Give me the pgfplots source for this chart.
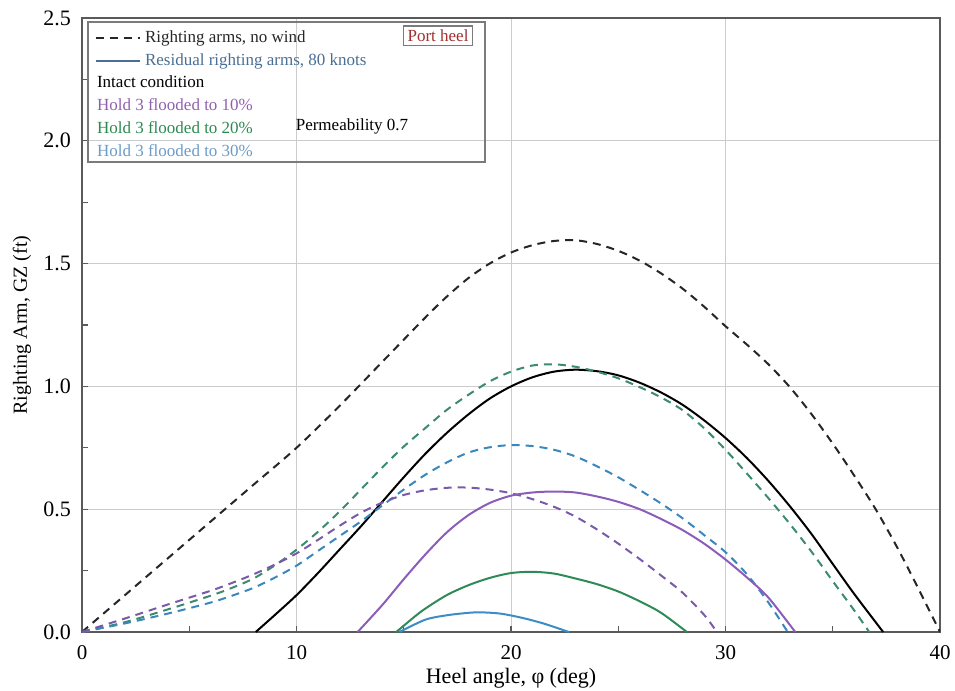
\documentclass[border=0pt]{standalone}
\usepackage{fontspec}
\setmainfont{Liberation Serif}
\usepackage{pgfplots}
\pgfplotsset{compat=1.18}
\definecolor{axgray}{HTML}{5A5A5A}
\definecolor{gridgray}{HTML}{CCCCCC}
\definecolor{purp}{HTML}{8B5DB8}
\definecolor{purpd}{HTML}{7A5AA8}
\definecolor{grn}{HTML}{2E8B57}
\definecolor{grnd}{HTML}{3B8C6E}
\definecolor{blu}{HTML}{3C8DC5}
\definecolor{blud}{HTML}{3A87BD}
\definecolor{txtblue}{HTML}{4A6F94}
\definecolor{txtpurp}{HTML}{9060B0}
\definecolor{txtgrn}{HTML}{2C8A50}
\definecolor{txtblu}{HTML}{6B9BC8}
\definecolor{portred}{HTML}{A03030}
\begin{document}
\begin{tikzpicture}
\begin{axis}[
  scale only axis, width=429pt, height=307pt,
  xmin=0, xmax=40, ymin=0, ymax=2.5,
  xtick={0,10,20,30,40}, ytick={0,0.5,1,1.5,2,2.5},
  minor xtick={5,15,25,35}, minor ytick={0.25,0.75,1.25,1.75,2.25},
  yticklabels={0.0,0.5,1.0,1.5,2.0,2.5},
  xtick pos=bottom, ytick pos=left,
  /pgf/number format/assume math mode=true,
  tick align=inside, major tick length=3pt, minor tick length=3pt,
  tick style={axgray, line width=0.6pt},
  xmajorgrids, ymajorgrids,
  major grid style={gridgray, line width=0.5pt},
  axis line style={axgray, line width=1pt},
  xticklabel style={yshift=-3pt, font=\fontsize{10.5}{12}\selectfont},
  yticklabel style={xshift=-2pt, font=\fontsize{11}{12}\selectfont},
  every axis x label/.style={at={(axis description cs:0.5,-0.075)}, anchor=center},
  every axis y label/.style={at={(axis description cs:-0.07,0.5)}, rotate=90, anchor=center},
  xlabel style={font=\fontsize{11}{13}\selectfont},
  ylabel style={font=\fontsize{10}{12}\selectfont},
  xlabel={Heel angle, φ (deg)},
  ylabel={Righting Arm, GZ (ft)},
  legend cell align=left,
  legend style={draw=none, fill=none, at={(rel axis cs:0.012,0.99)}, anchor=north west,
    font=\fontsize{8.5}{11.4}\selectfont, row sep=0pt, inner sep=1pt},
  legend image code/.code={\draw[#1] (0cm,0cm) -- (0.78cm,0cm);},
  every axis plot/.append style={line width=1pt},
]
\addlegendimage{black!85, dash pattern=on 4pt off 3pt}
\addlegendentry{\textcolor{black!85}{Righting arms, no wind}}
\addlegendimage{txtblue, line width=0.8pt}
\addlegendentry{\textcolor{txtblue}{Residual righting arms, 80 knots}}
\addlegendimage{empty legend}
\addlegendentry{\hspace{-24pt}Intact condition}
\addlegendimage{empty legend}
\addlegendentry{\hspace{-24pt}\textcolor{txtpurp}{Hold 3 flooded to 10\%}}
\addlegendimage{empty legend}
\addlegendentry{\hspace{-24pt}\textcolor{txtgrn}{Hold 3 flooded to 20\%}}
\addlegendimage{empty legend}
\addlegendentry{\hspace{-24pt}\textcolor{txtblu}{Hold 3 flooded to 30\%}}

% intact, no wind
\addplot[black!85, dash pattern=on 4pt off 3pt, smooth, forget plot] coordinates {
(0,0) (2,0.15) (4,0.3) (6,0.45) (8,0.6) (10,0.75) (12,0.92) (14,1.1) (16,1.28) (17,1.365)
(18,1.44) (19,1.5) (20,1.545) (21,1.575) (22,1.592) (23,1.595) (24,1.58) (25,1.552)
(26,1.512) (27,1.46) (28,1.398) (29,1.325) (30,1.245) (31,1.17) (32,1.09) (33,0.997)
(34,0.888) (35,0.767) (36,0.637) (37,0.5) (38,0.345) (39,0.175) (40,0)};
% intact residual
\addplot[black, smooth, forget plot] coordinates {
(8.1,0) (9,0.07) (10,0.15) (11,0.24) (12,0.335) (13,0.43) (14,0.53) (15,0.63)
(16,0.725) (17,0.81) (18,0.885) (19,0.95) (20,1.0) (21,1.037) (22,1.06) (23,1.068)
(24,1.062) (25,1.045) (26,1.015) (27,0.975) (28,0.925) (29,0.862) (30,0.79) (31,0.708)
(32,0.615) (33,0.512) (34,0.4) (35,0.277) (36,0.155) (37.35,0)};
% 20% no wind
\addplot[grnd, dash pattern=on 4pt off 3pt, smooth, forget plot] coordinates {
(0,0) (2,0.04) (4,0.092) (6,0.148) (7,0.18) (8,0.218) (9,0.272) (10,0.335) (11,0.408) (12,0.49)
(13,0.58) (14,0.67) (15,0.755) (16,0.83) (17,0.904) (18,0.965) (19,1.02) (20,1.06)
(21,1.085) (22,1.09) (23,1.08) (24,1.06) (25,1.033) (26,0.997) (27,0.955) (28,0.903)
(29,0.83) (30,0.742) (31,0.645) (32,0.545) (33,0.44) (34,0.328) (35,0.207) (36,0.088) (36.7,0)};
% 30% no wind
\addplot[blud, dash pattern=on 4pt off 3pt, smooth, forget plot] coordinates {
(0,0) (2,0.035) (4,0.075) (6,0.12) (7,0.148) (8,0.18) (9,0.222) (10,0.27) (11,0.33)
(12,0.39) (13,0.45) (14,0.515) (15,0.58) (16,0.64) (17,0.69) (18,0.73) (19,0.752) (20,0.761)
(21,0.757) (22,0.742) (23,0.715) (24,0.675) (25,0.63) (26,0.578) (27,0.523) (28,0.463)
(29,0.395) (30,0.325) (31,0.235) (32,0.12) (32.9,0)};
% 10% no wind
\addplot[purpd, dash pattern=on 4pt off 3pt, smooth, forget plot] coordinates {
(0,0) (2,0.055) (4,0.112) (6,0.168) (7,0.2) (8,0.235) (9,0.275) (10,0.32) (11,0.375) (12,0.432)
(13,0.485) (14,0.527) (15,0.558) (16,0.577) (17,0.587) (18,0.588) (19,0.58) (20,0.565)
(21,0.541) (22,0.51) (23,0.47) (24,0.418) (25,0.36) (26,0.297) (27,0.23) (28,0.16)
(29,0.07) (29.6,0)};
% 10% residual
\addplot[purp, smooth, forget plot] coordinates {
(12.85,0) (14,0.11) (15,0.215) (16,0.315) (17,0.405) (18,0.475) (19,0.525)
(20,0.555) (21,0.568) (22,0.572) (23,0.568) (24,0.552) (25,0.53) (26,0.5) (27,0.46)
(28,0.415) (29,0.36) (30,0.295) (31,0.222) (32,0.14) (33.25,0)};
% 20% residual
\addplot[grn, smooth, forget plot] coordinates {
(14.65,0) (15.5,0.062) (16,0.095) (17,0.15) (18,0.19) (19,0.22) (20,0.24)
(21,0.245) (22,0.238) (23,0.218) (24,0.195) (25,0.165) (26,0.125) (27,0.078) (28.2,0)};
% 30% residual
\addplot[blu, smooth, forget plot] coordinates {
(14.8,0) (16,0.05) (17,0.068) (18,0.078) (18.6,0.08) (19.5,0.075)
(20.5,0.058) (21.5,0.035) (22.7,0)};

\draw[axgray!80, line width=1pt] (rel axis cs:0.007,0.765) rectangle (rel axis cs:0.47,0.9935);
\node[draw=axgray!80, line width=0.7pt, inner sep=2pt, text=portred, font=\fontsize{8.5}{10}\selectfont]
  at (rel axis cs:0.415,0.971) {Port heel};
\node[font=\fontsize{8.5}{10}\selectfont] at (rel axis cs:0.3147,0.824) {Permeability 0.7};
\coordinate (sw) at (rel axis cs:0,0);
\coordinate (ne) at (rel axis cs:1,1);
\end{axis}
\pgfresetboundingbox
\path ([shift={(-41pt,-29pt)}]sw) rectangle ([shift={(7.5pt,9pt)}]ne);
\end{tikzpicture}
\end{document}
